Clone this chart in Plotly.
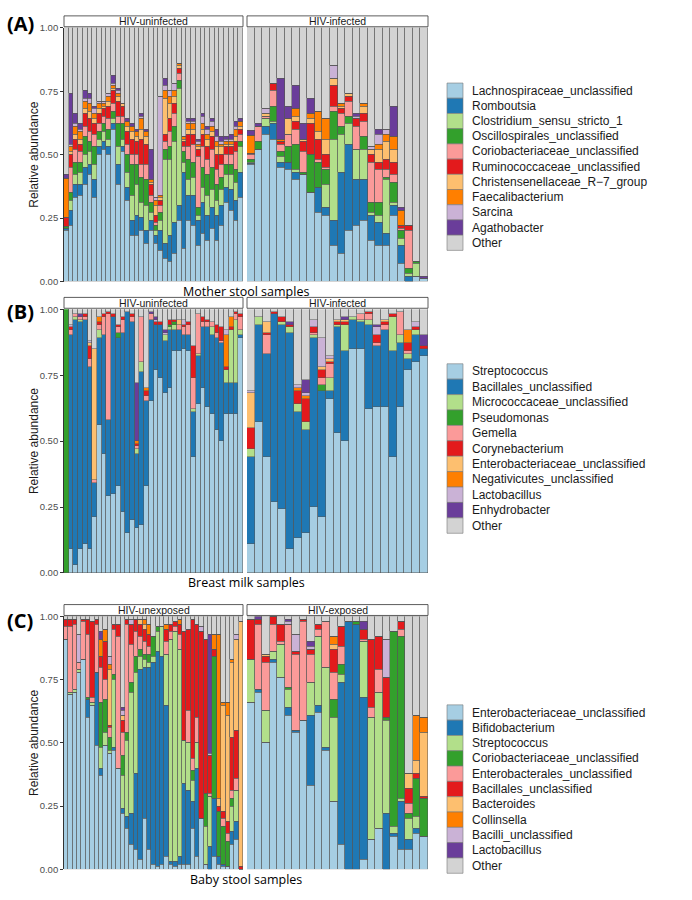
import plotly.graph_objects as go

W, H = 692, 900

COLORS = ["#A6CEE3", "#1F78B4", "#B2DF8A", "#33A02C", "#FB9A99", "#E31A1C",
          "#FDBF6F", "#FF7F00", "#CAB2D6", "#6A3D9A", "#D3D3D3"]

taxa_A = ["Lachnospiraceae_unclassified", "Romboutsia", "Clostridium_sensu_stricto_1",
          "Oscillospirales_unclassified", "Coriobacteriaceae_unclassified",
          "Ruminococcaceae_unclassified", "Christensenellaceae_R\u22127_group",
          "Faecalibacterium", "Sarcina", "Agathobacter", "Other"]
taxa_B = ["Streptococcus", "Bacillales_unclassified", "Micrococcaceae_unclassified",
          "Pseudomonas", "Gemella", "Corynebacterium", "Enterobacteriaceae_unclassified",
          "Negativicutes_unclassified", "Lactobacillus", "Enhydrobacter", "Other"]
taxa_C = ["Enterobacteriaceae_unclassified", "Bifidobacterium", "Streptococcus",
          "Coriobacteriaceae_unclassified", "Enterobacterales_unclassified",
          "Bacillales_unclassified", "Bacteroides", "Collinsella", "Bacilli_unclassified",
          "Lactobacillus", "Other"]

facets_AB = ["HIV-uninfected", "HIV-infected"]
facets_C = ["HIV-unexposed", "HIV-exposed"]
xtitles = ["Mother stool samples", "Breast milk samples", "Baby stool samples"]
panel_tags = ["(A)", "(B)", "(C)"]
yticks = [0, 0.25, 0.5, 0.75, 1.0]
yticklabels = ["0.00", "0.25", "0.50", "0.75", "1.00"]

# relative abundance per sample, first ten taxa (Other = remainder)
mother_uninfected = [
    [.20, .01, .00, .005, .00, .035, .00, .155, .00, .015],
    [.22, .06, .04, .03, .10, .05, .01, .02, .01, .20],
    [.33, .05, .04, .05, .05, .04, .02, .03, .01, .04],
    [.34, .04, .05, .04, .04, .03, .02, .03, .01, .02],
    [.38, .07, .05, .07, .04, .05, .02, .03, .01, .03],
    [.42, .04, .05, .04, .04, .05, .03, .03, .02, .02],
    [.33, .07, .06, .07, .05, .04, .02, .02, .02, .01],
    [.50, .03, .03, .03, .03, .04, .02, .02, .01, .00],
    [.52, .03, .04, .03, .03, .03, .01, .01, .01, .00],
    [.50, .03, .03, .04, .04, .05, .02, .02, .01, .00],
    [.60, .02, .02, .03, .03, .05, .01, .01, .01, .03],
    [.38, .08, .07, .09, .03, .06, .02, .01, .01, .01],
    [.51, .02, .03, .06, .03, .04, .01, .00, .00, .00],
    [.32, .05, .06, .07, .04, .05, .02, .02, .00, .01],
    [.18, .06, .10, .12, .04, .06, .03, .02, .00, .01],
    [.18, .08, .12, .08, .04, .05, .02, .02, .00, .01],
    [.20, .05, .06, .10, .05, .10, .04, .04, .01, .01],
    [.15, .05, .10, .10, .06, .08, .03, .02, .00, .01],
    [.20, .04, .03, .04, .03, .04, .01, .01, .00, .12],
    [.15, .03, .02, .02, .01, .03, .04, .02, .01, .00],
    [.12, .08, .04, .03, .03, .02, .01, .01, .39, .00],
    [.09, .06, .33, .04, .03, .03, .14, .03, .02, .03],
    [.08, .10, .30, .05, .06, .05, .06, .03, .02, .00],
    [.11, .12, .32, .06, .05, .04, .03, .02, .03, .00],
    [.24, .06, .46, .03, .03, .02, .01, .01, .00, .00],
    [.13, .30, .04, .04, .02, .02, .01, .01, .00, .00],
    [.24, .10, .06, .08, .05, .05, .02, .02, .01, .01],
    [.22, .12, .07, .06, .07, .04, .02, .02, .01, .01],
    [.14, .10, .02, .03, .20, .03, .01, .01, .01, .01],
    [.19, .12, .06, .08, .08, .05, .02, .02, .03, .01],
    [.16, .10, .08, .08, .06, .05, .03, .02, .02, .01],
    [.21, .08, .07, .09, .07, .05, .02, .02, .02, .01],
    [.16, .10, .06, .06, .06, .06, .03, .02, .02, .03],
    [.22, .08, .06, .05, .05, .04, .03, .01, .01, .02],
    [.31, .06, .05, .04, .04, .03, .01, .01, .01, .01],
    [.28, .08, .06, .04, .04, .03, .01, .01, .01, .02],
    [.24, .08, .07, .05, .07, .04, .02, .03, .01, .02],
    [.33, .10, .10, .02, .03, .02, .01, .02, .00, .01],
]
mother_infected = [
    [.46, .005, .005, .01, .02, .005, .00, .07, .00, .02],
    [.52, .00, .00, .03, .06, .00, .00, .00, .00, .01],
    [.58, .03, .03, .00, .01, .00, .01, .00, .02, .00],
    [.56, .06, .01, .06, .06, .03, .00, .00, .00, .00],
    [.45, .02, .02, .02, .03, .01, .00, .01, .00, .24],
    [.44, .03, .00, .06, .05, .00, .06, .00, .00, .05],
    [.40, .03, .01, .10, .06, .03, .02, .03, .00, .09],
    [.42, .00, .00, .01, .08, .04, .01, .00, .00, .06],
    [.35, .00, .00, .15, .00, .12, .02, .02, .00, .06],
    [.27, .10, .00, .10, .01, .08, .03, .08, .00, .00],
    [.26, .03, .09, .06, .01, .05, .06, .08, .00, .00],
    [.14, .10, .32, .11, .02, .08, .03, .00, .05, .00],
    [.11, .32, .15, .03, .05, .02, .01, .01, .00, .00],
    [.20, .34, .08, .03, .06, .02, .01, .00, .00, .00],
    [.22, .18, .12, .00, .09, .03, .00, .00, .01, .01],
    [.24, .16, .12, .05, .06, .03, .03, .01, .00, .00],
    [.16, .10, .01, .04, .16, .03, .02, .00, .01, .00],
    [.14, .09, .03, .05, .13, .03, .05, .02, .04, .02],
    [.14, .05, .21, .01, .03, .04, .07, .03, .02, .00],
    [.26, .04, .01, .08, .03, .05, .05, .05, .00, .12],
    [.07, .07, .03, .03, .01, .01, .00, .06, .00, .01],
    [.00, .02, .01, .02, .15, .02, .00, .00, .00, .00],
    [.02, .00, .05, .01, .00, .00, .00, .00, .00, .00],
    [.01, .00, .00, .00, .00, .00, .00, .00, .00, .01],
]
milk_uninfected = [
    [.00, .00, .00, 1.0, .00, .00, .00, .00, .00, .00],
    [.09, .81, .00, .00, .02, .01, .00, .00, .01, .00],
    [.03, .93, .01, .00, .01, .00, .00, .00, .00, .00],
    [.09, .86, .01, .00, .01, .00, .00, .00, .00, .01],
    [.11, .85, .00, .00, .01, .01, .00, .00, .00, .00],
    [.09, .69, .00, .00, .03, .05, .01, .00, .01, .00],
    [.21, .13, .00, .00, .01, .00, .50, .00, .00, .00],
    [.56, .33, .03, .00, .02, .01, .00, .02, .00, .00],
    [.45, .45, .00, .00, .07, .01, .00, .00, .00, .00],
    [.29, .29, .00, .00, .40, .01, .00, .00, .00, .00],
    [.30, .67, .00, .00, .00, .01, .00, .00, .00, .00],
    [.33, .56, .00, .02, .02, .01, .00, .00, .00, .00],
    [.23, .68, .00, .00, .05, .01, .00, .00, .00, .00],
    [.15, .84, .00, .00, .00, .00, .00, .00, .00, .00],
    [.20, .75, .00, .00, .02, .01, .00, .00, .00, .00],
    [.17, .28, .02, .00, .01, .01, .00, .01, .00, .22],
    [.18, .58, .04, .00, .17, .00, .00, .00, .00, .00],
    [.33, .32, .00, .00, .02, .02, .00, .01, .00, .00],
    [.65, .31, .00, .00, .02, .00, .00, .00, .00, .01],
    [.77, .17, .00, .00, .00, .01, .00, .00, .01, .01],
    [.74, .20, .00, .00, .00, .01, .00, .00, .00, .00],
    [.68, .20, .02, .00, .00, .00, .00, .00, .01, .01],
    [.70, .22, .01, .01, .00, .02, .00, .00, .00, .00],
    [.84, .08, .02, .01, .00, .01, .00, .00, .00, .00],
    [.84, .08, .00, .00, .02, .00, .02, .00, .00, .00],
    [.85, .05, .00, .00, .03, .01, .00, .00, .02, .00],
    [.84, .06, .00, .00, .04, .01, .00, .00, .00, .00],
    [.44, .17, .01, .00, .12, .12, .00, .00, .00, .00],
    [.64, .18, .01, .00, .15, .00, .00, .00, .00, .00],
    [.70, .23, .00, .00, .02, .02, .00, .00, .00, .00],
    [.63, .30, .00, .00, .02, .01, .00, .00, .00, .00],
    [.60, .30, .03, .00, .02, .00, .00, .00, .00, .00],
    [.54, .35, .00, .00, .02, .03, .00, .00, .00, .00],
    [.50, .37, .00, .00, .01, .05, .00, .00, .00, .00],
    [.60, .12, .05, .00, .00, .01, .00, .12, .02, .00],
    [.60, .12, .20, .00, .00, .01, .00, .04, .00, .00],
    [.60, .12, .24, .00, .02, .01, .00, .00, .00, .00],
    [.89, .01, .02, .00, .05, .01, .00, .00, .00, .00],
]
milk_infected = [
    [.11, .33, .03, .00, .00, .08, .13, .00, .01, .00],
    [.57, .37, .03, .00, .00, .00, .00, .00, .00, .00],
    [.44, .39, .00, .00, .07, .01, .04, .00, .00, .00],
    [.27, .71, .00, .00, .00, .01, .00, .00, .00, .00],
    [.24, .70, .01, .00, .00, .02, .00, .00, .00, .00],
    [.09, .82, .02, .00, .00, .01, .00, .00, .00, .01],
    [.13, .48, .03, .00, .00, .05, .00, .01, .01, .00],
    [.15, .39, .03, .00, .00, .09, .00, .01, .01, .05],
    [.25, .64, .01, .00, .01, .02, .00, .00, .03, .00],
    [.21, .48, .00, .02, .03, .03, .01, .00, .11, .00],
    [.66, .03, .05, .00, .05, .01, .01, .00, .01, .00],
    [.53, .40, .01, .00, .00, .01, .01, .00, .00, .00],
    [.50, .34, .10, .00, .00, .01, .01, .00, .00, .01],
    [.85, .11, .01, .00, .00, .00, .00, .00, .00, .00],
    [.85, .10, .01, .00, .02, .00, .00, .00, .00, .00],
    [.62, .32, .02, .00, .02, .01, .00, .00, .00, .00],
    [.63, .23, .00, .00, .01, .03, .00, .00, .03, .01],
    [.63, .29, .00, .00, .02, .01, .01, .00, .00, .00],
    [.44, .40, .13, .00, .00, .01, .00, .00, .00, .00],
    [.63, .24, .03, .00, .09, .00, .00, .00, .00, .00],
    [.77, .04, .02, .00, .01, .03, .00, .05, .00, .00],
    [.80, .10, .02, .00, .00, .01, .00, .00, .02, .00],
    [.82, .03, .00, .00, .00, .01, .00, .00, .00, .04],
]
baby_unexposed = [
    [.91, .00, .00, .00, .05, .03, .00, .00, .00, .00],
    [.69, .00, .01, .00, .26, .03, .00, .00, .00, .00],
    [.70, .00, .01, .00, .26, .02, .00, .00, .00, .00],
    [.78, .00, .01, .00, .03, .00, .00, .00, .11, .00],
    [.83, .00, .00, .00, .15, .01, .00, .00, .00, .00],
    [.60, .07, .00, .01, .25, .06, .00, .00, .00, .00],
    [.65, .00, .01, .00, .02, .30, .00, .00, .00, .00],
    [.49, .29, .00, .00, .19, .02, .00, .00, .00, .00],
    [.37, .03, .08, .18, .14, .04, .00, .07, .00, .03],
    [.49, .00, .05, .13, .08, .15, .00, .05, .00, .00],
    [.46, .00, .01, .05, .04, .01, .22, .02, .03, .00],
    [.47, .01, .27, .02, .18, .02, .00, .00, .00, .00],
    [.40, .00, .00, .00, .52, .05, .00, .00, .00, .00],
    [.22, .02, .13, .08, .09, .05, .02, .00, .02, .01],
    [.16, .05, .30, .03, .43, .02, .00, .00, .00, .00],
    [.10, .12, .48, .04, .15, .08, .00, .00, .02, .00],
    [.08, .30, .40, .06, .10, .05, .00, .00, .00, .00],
    [.04, .75, .05, .03, .05, .05, .02, .00, .00, .00],
    [.20, .60, .03, .02, .05, .05, .02, .02, .00, .00],
    [.08, .72, .02, .03, .03, .05, .00, .04, .00, .00],
    [.02, .80, .02, .08, .00, .00, .00, .00, .00, .00],
    [.01, .85, .08, .02, .00, .00, .00, .00, .00, .00],
    [.02, .82, .12, .00, .00, .00, .00, .00, .00, .00],
    [.05, .60, .20, .00, .05, .05, .00, .02, .00, .00],
    [.02, .01, .88, .00, .03, .03, .00, .00, .00, .00],
    [.01, .02, .91, .00, .02, .02, .00, .00, .00, .00],
    [.02, .03, .82, .00, .06, .04, .00, .02, .00, .00],
    [.02, .32, .17, .00, .00, .43, .00, .00, .00, .00],
    [.02, .29, .19, .00, .13, .32, .00, .00, .00, .00],
    [.16, .11, .08, .04, .05, .55, .00, .00, .00, .00],
    [.05, .35, .10, .00, .10, .37, .00, .00, .00, .00],
    [.20, .00, .00, .00, .00, .74, .00, .00, .02, .00],
    [.02, .00, .15, .13, .00, .61, .00, .00, .00, .00],
    [.00, .09, .20, .00, .01, .15, .00, .00, .01, .47],
    [.05, .23, .00, .56, .00, .03, .00, .06, .00, .00],
    [.02, .03, .00, .18, .00, .02, .03, .65, .00, .00],
    [.01, .01, .00, .15, .03, .03, .42, .01, .00, .00],
    [.01, .00, .00, .10, .03, .05, .42, .05, .00, .00],
    [.10, .05, .10, .03, .03, .21, .30, .01, .00, .00],
    [.12, .07, .12, .00, .05, .19, .36, .00, .02, .00],
    [.00, .00, .00, .00, .00, .01, .97, .00, .00, .00],
]
baby_exposed = [
    [.66, .00, .17, .00, .00, .16, .00, .00, .00, .00],
    [.70, .01, .00, .00, .26, .02, .00, .00, .00, .01],
    [.50, .00, .13, .00, .19, .02, .01, .00, .00, .00],
    [.82, .01, .03, .00, .11, .03, .00, .00, .00, .00],
    [.76, .00, .13, .00, .01, .07, .00, .00, .00, .00],
    [.61, .03, .07, .01, .25, .00, .00, .00, .01, .01],
    [.54, .01, .00, .00, .30, .01, .00, .00, .07, .00],
    [.59, .00, .00, .00, .39, .01, .00, .00, .00, .00],
    [.33, .28, .13, .00, .11, .02, .00, .00, .01, .02],
    [.62, .03, .27, .00, .03, .02, .00, .00, .00, .00],
    [.47, .01, .32, .00, .18, .00, .00, .00, .00, .00],
    [.27, .00, .33, .07, .11, .09, .02, .03, .00, .00],
    [.10, .64, .03, .04, .07, .08, .00, .00, .00, .00],
    [.00, .98, .00, .00, .00, .00, .00, .00, .00, .00],
    [.00, .97, .00, .01, .00, .00, .00, .00, .00, .00],
    [.04, .64, .22, .00, .01, .04, .00, .00, .00, .03],
    [.12, .00, .48, .00, .04, .27, .00, .00, .00, .00],
    [.16, .00, .54, .00, .09, .13, .00, .00, .00, .00],
    [.00, .22, .37, .01, .00, .16, .00, .00, .15, .00],
    [.13, .01, .03, .77, .00, .00, .00, .00, .00, .00],
    [.08, .19, .01, .64, .03, .03, .00, .00, .00, .00],
    [.08, .04, .08, .02, .04, .06, .06, .00, .00, .00],
    [.14, .02, .05, .15, .00, .02, .05, .18, .00, .00],
    [.13, .00, .00, .15, .00, .01, .25, .06, .00, .00],
]

panels = [
    dict(tag=panel_tags[0], taxa=taxa_A, strips=facets_AB, xtitle=xtitles[0],
         data=[(mother_uninfected, "MU"), (mother_infected, "MI")],
         top=22, bottom=279, leg_top=78.0, row_h=15.4, tag_y=18),
    dict(tag=panel_tags[1], taxa=taxa_B, strips=facets_AB, xtitle=xtitles[1],
         data=[(milk_uninfected, "BU"), (milk_infected, "BI")],
         top=307, bottom=574, leg_top=362.2, row_h=15.6, tag_y=309),
    dict(tag=panel_tags[2], taxa=taxa_C, strips=facets_C, xtitle=xtitles[2],
         data=[(baby_unexposed, "CU"), (baby_exposed, "CE")],
         top=618, bottom=874, leg_top=707.5, row_h=15.5, tag_y=622),
]

FACET_X = [(64, 243), (247, 428)]
LEG_X0, LEG_X1, LEG_TX = 447, 463, 470
TXT = "Liberation Sans, Arial, sans-serif"


def px_x(x):
    return x / W


def px_y(y):
    return 1 - y / H


fig = go.Figure()
layout = {}
shapes = []
annotations = []
ax = 1
for p in panels:
    for f, (rows, prefix) in enumerate(p["data"]):
        ids = [f"{prefix}{i + 1}" for i in range(len(rows))]
        series = [[r[k] for r in rows] for k in range(10)]
        series.append([max(0.0, round(1 - sum(r), 4)) for r in rows])
        xa = "x" if ax == 1 else f"x{ax}"
        ya = "y" if ax == 1 else f"y{ax}"
        for k in range(11):
            fig.add_trace(go.Bar(
                x=ids, y=series[k], name=p["taxa"][k],
                marker=dict(color=COLORS[k], line=dict(color="#555555", width=0.5)),
                xaxis=xa, yaxis=ya, showlegend=False, hoverinfo="skip"))
        x0, x1 = FACET_X[f]
        layout["xaxis" if ax == 1 else f"xaxis{ax}"] = dict(
            domain=[px_x(x0), px_x(x1)], anchor=ya, type="category",
            showticklabels=False, ticks="", showgrid=False, zeroline=False,
            showline=False, categoryorder="array", categoryarray=ids)
        yax = dict(domain=[px_y(p["bottom"]), px_y(p["top"])], anchor=xa,
                   range=[0, 1.0], showgrid=False, zeroline=False)
        if f == 0:
            yax.update(showline=True, linecolor="#333333", linewidth=0.8,
                       ticks="outside", ticklen=3, tickwidth=0.8, tickcolor="#333333",
                       tickvals=yticks, ticktext=yticklabels,
                       tickfont=dict(family=TXT, size=9.5, color="#4d4d4d"))
        else:
            yax.update(showline=False, showticklabels=False, ticks="")
        layout["yaxis" if ax == 1 else f"yaxis{ax}"] = yax
        # facet strip
        shapes.append(dict(type="rect", xref="paper", yref="paper",
                           x0=px_x(x0), x1=px_x(x1),
                           y0=px_y(p["top"] - 1), y1=px_y(p["top"] - 12),
                           line=dict(color="#333333", width=0.8), fillcolor="white"))
        annotations.append(dict(text=p["strips"][f], xref="paper", yref="paper",
                                x=px_x((x0 + x1) / 2), y=px_y(p["top"] - 6.5),
                                showarrow=False, xanchor="center", yanchor="middle",
                                font=dict(family=TXT, size=10.5, color="#1a1a1a")))
        ax += 1
    # panel tag
    annotations.append(dict(text=f"<b>{p['tag']}</b>", xref="paper", yref="paper",
                            x=px_x(5), y=px_y(p["tag_y"]), showarrow=False,
                            xanchor="left", yanchor="middle",
                            font=dict(family="Open Sans, sans-serif", size=20, color="black")))
    # y title
    annotations.append(dict(text="Relative abundance", xref="paper", yref="paper",
                            x=px_x(34), y=px_y((p["top"] + p["bottom"]) / 2),
                            showarrow=False, textangle=-90, xanchor="center",
                            yanchor="middle",
                            font=dict(family=TXT, size=12, color="#1a1a1a")))
    # x title
    annotations.append(dict(text=p["xtitle"], xref="paper", yref="paper",
                            x=px_x((FACET_X[0][0] + FACET_X[1][1]) / 2),
                            y=px_y(p["bottom"] + 10), showarrow=False,
                            xanchor="center", yanchor="middle",
                            font=dict(family="Open Sans, sans-serif", size=12.5,
                                      color="black")))
    # legend
    rh = p["row_h"]
    for k, name in enumerate(p["taxa"]):
        yt = p["leg_top"] + k * rh
        shapes.append(dict(type="rect", xref="paper", yref="paper",
                           x0=px_x(LEG_X0), x1=px_x(LEG_X1),
                           y0=px_y(yt), y1=px_y(yt + rh),
                           line=dict(color="#777777", width=0.6),
                           fillcolor=COLORS[k]))
        annotations.append(dict(text=name, xref="paper", yref="paper",
                                x=px_x(LEG_TX), y=px_y(yt + rh / 2),
                                showarrow=False, xanchor="left", yanchor="middle",
                                font=dict(family=TXT, size=12, color="#1a1a1a")))

fig.update_layout(
    width=W, height=H, margin=dict(l=0, r=0, t=0, b=0),
    paper_bgcolor="white", plot_bgcolor="white",
    barmode="stack", bargap=0, showlegend=False,
    shapes=shapes, annotations=annotations, **layout)

fig.write_html("out.html")
